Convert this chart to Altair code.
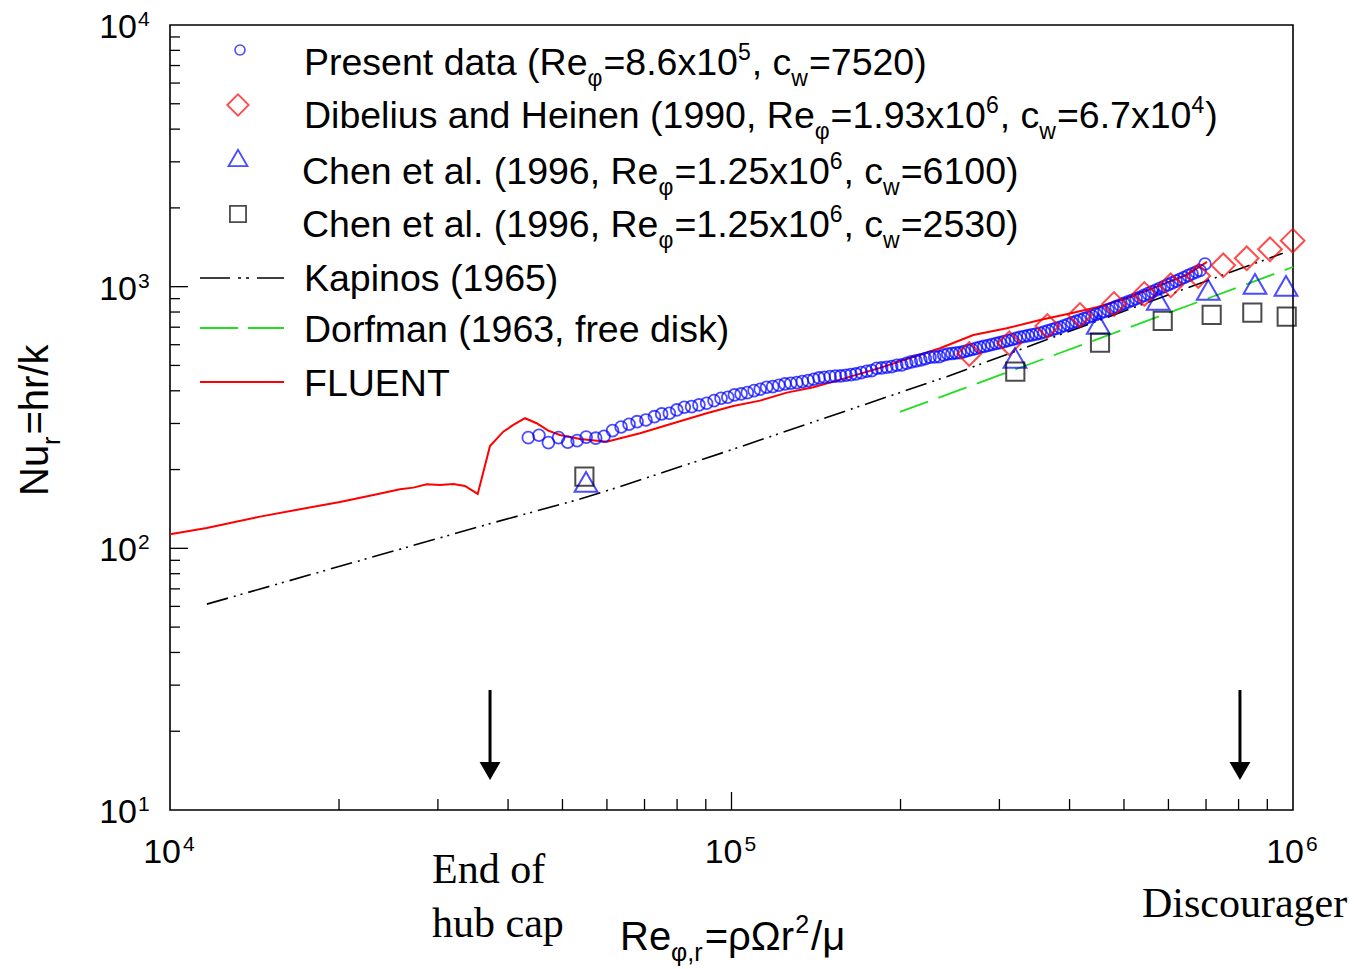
import altair as alt
import pandas as pd

# ---------------- data ----------------
present_re = [43460, 45400, 47200, 49200, 51100, 53100, 55100, 57300, 59300, 61400,
              63600, 65700, 67900, 70400, 72900, 75100, 77500, 79900, 82400, 84900,
              87500, 90300, 93100, 95800, 98500, 101200, 104000, 106700, 109700, 112500,
              115500, 118400, 121400, 124500, 127500, 130700, 133700, 136900, 140100, 143200,
              146300, 149800, 153100, 156500, 159900, 163200, 166600, 170300, 174100, 177700,
              181400, 185100, 189000, 192900, 196900, 201000, 205100, 209000, 213100, 217300,
              221400, 225700, 230100, 234500, 238700, 242700,
              247000, 251100, 255200, 259400, 263700, 268100, 272500, 277000, 281600, 286300,
              291000, 295800, 300700, 305700, 310800, 315900, 321100, 326400, 331800, 337300,
              342900, 348600, 354400, 360300, 366200, 372300, 378400, 384700, 391100, 397500,
              404100, 410800, 417600, 424500, 431500, 438700, 445900, 453300, 460800, 468400,
              476200, 484100, 492100, 500200, 508500, 516900, 525500, 534200, 543000, 552000,
              561100, 570400, 579800, 589400, 599200, 609100, 619100, 629400, 639800, 650400,
              661100, 672000, 683100, 697000]
present_nu = [264.9, 270.5, 253.5, 264.9, 254.4, 258.0, 266.1, 263.7, 268.2, 281.7,
              291.0, 298.0, 304.9, 309.5, 318.6, 326.3, 328.3, 338.0, 346.1, 348.0,
              353.2, 358.5, 366.8, 374.6, 378.0, 385.7, 389.1, 393.6, 400.6, 405.5,
              412.7, 414.9, 420.1, 424.9, 427.5, 429.8, 433.6, 437.4, 442.8, 447.9,
              450.7, 453.1, 455.1, 455.9, 458.7, 461.2, 464.0, 469.4, 475.2, 477.7,
              487.9, 489.2, 492.2, 494.8, 500.9, 502.3, 509.8, 515.7, 520.2, 524.8,
              530.8, 537.4, 538.8, 540.2, 548.3, 553.1,
              555.1, 558.1, 559.5, 564.9, 570.4, 575.4, 581.0, 586.7, 591.4, 596.1,
              601.4, 606.2, 611.0, 616.9, 622.9, 628.4, 634.5, 640.7, 645.2, 649.8,
              654.4, 659.0, 663.6, 670.7, 678.3, 685.4, 692.7, 699.5, 709.2, 718.0,
              727.5, 736.5, 746.0, 754.6, 764.0, 772.8, 782.4, 791.4, 803.3, 814.7,
              827.0, 838.7, 851.2, 862.9, 875.2, 886.8, 899.3, 910.9, 925.8, 940.6,
              955.6, 970.9, 986.0, 1001.7, 1017.8, 1034.0, 1050.5, 1067.3, 1084.3, 1102.6,
              1120.2, 1138.2, 1153.3, 1221.0]

dibelius_re = [265100, 312400, 365100, 417500, 480000, 543600, 605600, 678100, 751300, 827100, 910000, 998800]
dibelius_nu = [553.1, 607.8, 707.9, 779.7, 859.1, 937.7, 1012.4, 1098.9, 1207.2, 1284.0, 1389.6, 1499.2]

chen6100_re = [55070, 319800, 450000, 575600, 706500, 855700, 971700]
chen6100_nu = [179.4, 534.1, 720.5, 889.9, 971.3, 1024.0, 1006.0]

chen2530_re = [54700, 320200, 453200, 586100, 716400, 846300, 974500]
chen2530_nu = [187.9, 473.5, 611.0, 739.7, 779.7, 795.6, 768.1]

kapinos_re = [11630, 37150, 53000, 63300, 100000, 241700, 417500, 647600, 958700]
kapinos_nu = [61.2, 124.3, 153.0, 172.1, 238.0, 453.0, 698.9, 988.6, 1341.0]

dorfman_re = [199500, 1000000]
dorfman_nu = [332.0, 1189.0]

fluent_re = [10000, 11625, 14466, 17041, 20078, 23021, 25680, 27125, 28656, 30263,
             31958, 33519, 35318, 37145, 39228, 40871, 42875, 44980, 47170, 49490,
             53740, 59950, 68720, 78760, 90320, 100740, 112400, 125460, 139900, 151830,
             183860, 207950, 235130, 269580, 309200, 354300, 406200, 447200, 505700, 571900,
             646800, 702800]
fluent_nu = [113.2, 119.7, 132.2, 141.1, 150.4, 160.0, 168.2, 170.6, 175.8, 174.7,
             176.2, 173.2, 161.4, 246.2, 279.2, 296.1, 314.2, 300.6, 281.7, 271.3,
             261.8, 255.7, 275.4, 300.6, 328.3, 350.1, 366.8, 393.6, 412.7, 433.6,
             489.2, 534.1, 581.5, 653.8, 693.5, 746.0, 795.6, 834.3, 903.3, 1000.0,
             1108.6, 1243.0]

arrow_re = [37150, 804500]

y_label_vals = [10, 100, 1000, 10000]
y_label_exp = ["1", "2", "3", "4"]
x_label_vals = [1e4, 1e5, 1e6]
x_label_exp = ["4", "5", "6"]
y_major = [100, 1000]
y_minor = [20, 30, 40, 50, 60, 70, 80, 90, 200, 300, 400, 500, 600, 700, 800, 900,
           2000, 3000, 4000, 5000, 6000, 7000, 8000, 9000]
x_major = [1e5]
x_minor = [2e4, 3e4, 4e4, 5e4, 6e4, 7e4, 8e4, 9e4, 2e5, 3e5, 4e5, 5e5, 6e5, 7e5, 8e5, 9e5]

# ---------------- layout ----------------
W, H = 1123, 785
L, T = 170, 25
BLUE, RED, GREEN = "#0000ff", "#ff0000", "#22dd22"
FONT = "Liberation Sans"
SERIF = "Liberation Serif"

xs = alt.Scale(type="log", domain=[1e4, 1e6])
ys = alt.Scale(type="log", domain=[10, 1e4])
ENC = dict(x=alt.X("re:Q", scale=xs, axis=None), y=alt.Y("nu:Q", scale=ys, axis=None))


def frame(re, nu):
    return pd.DataFrame({"re": re, "nu": nu})


present = alt.Chart(frame(present_re, present_nu)).mark_point(
    shape="circle", filled=False, color=BLUE, size=140, strokeWidth=1.8).encode(**ENC)
dib = alt.Chart(frame(dibelius_re, dibelius_nu)).mark_point(
    shape="diamond", filled=False, color=RED, size=560, strokeWidth=2).encode(**ENC)
c61 = alt.Chart(frame(chen6100_re, chen6100_nu)).mark_point(
    shape="triangle-up", filled=False, color=BLUE, size=520, strokeWidth=2).encode(**ENC)
c25 = alt.Chart(frame(chen2530_re, chen2530_nu)).mark_point(
    shape="square", filled=False, color="black", size=330, strokeWidth=2).encode(**ENC)
kap = alt.Chart(frame(kapinos_re, kapinos_nu)).mark_line(
    color="black", strokeWidth=1.6, strokeDash=[22, 6, 2, 5, 2, 6]).encode(**ENC)
dorf = alt.Chart(frame(dorfman_re, dorfman_nu)).mark_line(
    color=GREEN, strokeWidth=1.8, strokeDash=[30, 11]).encode(**ENC)
flu = alt.Chart(frame(fluent_re, fluent_nu)).mark_line(
    color=RED, strokeWidth=2).encode(**ENC)

# ticks (inward)
ytk_major = alt.Chart(pd.DataFrame({"v": y_major})).mark_rule(color="black", strokeWidth=1.3).encode(
    y=alt.Y("v:Q", scale=ys, axis=None), x=alt.value(0), x2=alt.value(18))
ytk_minor = alt.Chart(pd.DataFrame({"v": y_minor})).mark_rule(color="black", strokeWidth=1.3).encode(
    y=alt.Y("v:Q", scale=ys, axis=None), x=alt.value(0), x2=alt.value(10))
xtk_major = alt.Chart(pd.DataFrame({"v": x_major})).mark_rule(color="black", strokeWidth=1.3).encode(
    x=alt.X("v:Q", scale=xs, axis=None), y=alt.value(H), y2=alt.value(H - 18))
xtk_minor = alt.Chart(pd.DataFrame({"v": x_minor})).mark_rule(color="black", strokeWidth=1.3).encode(
    x=alt.X("v:Q", scale=xs, axis=None), y=alt.value(H), y2=alt.value(H - 11))

# tick labels
ydf = pd.DataFrame({"v": y_label_vals, "e": y_label_exp, "b": ["10"] * 4})
xdf = pd.DataFrame({"v": x_label_vals, "e": x_label_exp, "b": ["10"] * 3})
ylab = alt.Chart(ydf).mark_text(font=FONT, fontSize=34, align="right", baseline="alphabetic", dy=13).encode(
    y=alt.Y("v:Q", scale=ys, axis=None), x=alt.value(137 - L), text="b:N")
ylab_e = alt.Chart(ydf).mark_text(font=FONT, fontSize=21, align="left", baseline="alphabetic", dy=1).encode(
    y=alt.Y("v:Q", scale=ys, axis=None), x=alt.value(138 - L), text="e:N")
xlab = alt.Chart(xdf).mark_text(font=FONT, fontSize=34, align="right", baseline="alphabetic", dx=11).encode(
    x=alt.X("v:Q", scale=xs, axis=None), y=alt.value(863 - T), text="b:N")
xlab_e = alt.Chart(xdf).mark_text(font=FONT, fontSize=21, align="left", baseline="alphabetic", dx=13).encode(
    x=alt.X("v:Q", scale=xs, axis=None), y=alt.value(851 - T), text="e:N")

# arrows
adf = pd.DataFrame({"re": arrow_re})
shaft = alt.Chart(adf).mark_rule(color="black", strokeWidth=3).encode(
    x=alt.X("re:Q", scale=xs, axis=None), y=alt.value(690 - T), y2=alt.value(764 - T))
head = alt.Chart(adf).mark_point(shape="triangle-down", filled=True, color="black", size=440, opacity=1).encode(
    x=alt.X("re:Q", scale=xs, axis=None), y=alt.value(771 - T))

# ---------------- text pieces (legend + titles) ----------------
AW = {' ': 278, '(': 333, ')': 333, ',': 278, '.': 278, '=': 584, '/': 278,
      'a': 556, 'b': 556, 'c': 500, 'd': 556, 'e': 556, 'f': 278, 'h': 556, 'i': 222,
      'k': 500, 'l': 222, 'm': 833, 'n': 556, 'o': 556, 'p': 556, 'r': 333, 's': 500,
      't': 278, 'u': 556, 'w': 722, 'x': 500,
      'C': 722, 'D': 722, 'E': 667, 'F': 611, 'H': 722, 'K': 667, 'L': 556, 'N': 722,
      'P': 667, 'R': 722, 'T': 611, 'U': 722,
      'φ': 650, 'ρ': 577, 'Ω': 768, 'μ': 577}


def tw(s, size):
    return sum(AW.get(ch, 556) for ch in s) * size / 1000.0


def run(parts, x0, base, main=37.5, small=23, sub=11, sup=-15, gap=1.0):
    rows = []
    x = x0
    for t, k in parts:
        s = main if k == "n" else small
        dy = 0 if k == "n" else (sub if k == "b" else sup)
        rows.append({"t": t, "x": x - L, "y": base + dy - T, "s": s})
        x += tw(t, s) + (gap if k != "n" else 0)
    return rows


legend_rows = []
legend_rows += run([("Present data (Re", "n"), ("φ", "b"), ("=8.6x10", "n"), ("5", "p"),
                    (", c", "n"), ("w", "b"), ("=7520)", "n")], 304, 75)
legend_rows += run([("Dibelius and Heinen (1990, Re", "n"), ("φ", "b"), ("=1.93x10", "n"), ("6", "p"),
                    (", c", "n"), ("w", "b"), ("=6.7x10", "n"), ("4", "p"), (")", "n")], 304, 128)
legend_rows += run([("Chen et al. (1996, Re", "n"), ("φ", "b"), ("=1.25x10", "n"), ("6", "p"),
                    (", c", "n"), ("w", "b"), ("=6100)", "n")], 302, 184)
legend_rows += run([("Chen et al. (1996, Re", "n"), ("φ", "b"), ("=1.25x10", "n"), ("6", "p"),
                    (", c", "n"), ("w", "b"), ("=2530)", "n")], 302, 237)
legend_rows += run([("Kapinos (1965)", "n")], 304, 291)
legend_rows += run([("Dorfman (1963, free disk)", "n")], 304, 342)
legend_rows += run([("FLUENT", "n")], 304, 396)
legend_rows += run([("Re", "n"), ("φ,r", "b"), ("=ρΩr", "n"), ("2", "p"), ("/μ", "n")], 620, 950,
                   main=40, small=25, sub=11, sup=-17, gap=2)

texts = alt.Chart(pd.DataFrame(legend_rows)).mark_text(
    font=FONT, align="left", baseline="alphabetic", color="black").encode(
    x=alt.X("x:Q", scale=None, axis=None), y=alt.Y("y:Q", scale=None, axis=None),
    text="t:N", size=alt.Size("s:Q", scale=None, legend=None))

# rotated y title
yt_rows = []
ypos = 496
for t, k in [("Nu", "n"), ("r", "b"), ("=hr/k", "n")]:
    s = 40 if k == "n" else 25
    yt_rows.append({"t": t, "x": (48 if k == "n" else 60) - L, "y": ypos - T, "s": s})
    ypos -= tw(t, s) + (2 if k != "n" else 0)
ytitle = alt.Chart(pd.DataFrame(yt_rows)).mark_text(
    font=FONT, align="left", baseline="alphabetic", angle=270, color="black").encode(
    x=alt.X("x:Q", scale=None, axis=None), y=alt.Y("y:Q", scale=None, axis=None),
    text="t:N", size=alt.Size("s:Q", scale=None, legend=None))

# serif annotations
ann = pd.DataFrame({"t": ["End of", "hub cap", "Discourager"],
                    "x": [432 - L, 432 - L, 1142 - L],
                    "y": [883 - T, 937 - T, 917 - T]})
annot = alt.Chart(ann).mark_text(font=SERIF, fontSize=42, align="left", baseline="alphabetic",
                                 color="black").encode(
    x=alt.X("x:Q", scale=None, axis=None), y=alt.Y("y:Q", scale=None, axis=None), text="t:N")

# legend symbols
one = pd.DataFrame({"a": [0]})
lg_c = alt.Chart(one).mark_point(shape="circle", filled=False, color=BLUE, size=100, strokeWidth=1.6).encode(
    x=alt.value(240 - L), y=alt.value(50 - T))
lg_d = alt.Chart(one).mark_point(shape="diamond", filled=False, color=RED, size=460, strokeWidth=1.8).encode(
    x=alt.value(238 - L), y=alt.value(105 - T))
lg_t = alt.Chart(one).mark_point(shape="triangle-up", filled=False, color=BLUE, size=360, strokeWidth=1.8).encode(
    x=alt.value(238 - L), y=alt.value(158 - T))
lg_s = alt.Chart(one).mark_point(shape="square", filled=False, color="black", size=260, strokeWidth=1.8).encode(
    x=alt.value(238 - L), y=alt.value(214 - T))
lg_k = alt.Chart(one).mark_rule(color="black", strokeWidth=1.6, strokeDash=[30, 8, 3, 5, 3, 8]).encode(
    x=alt.value(200 - L), x2=alt.value(284 - L), y=alt.value(278 - T))
lg_g = alt.Chart(one).mark_rule(color=GREEN, strokeWidth=1.8, strokeDash=[38, 10]).encode(
    x=alt.value(200 - L), x2=alt.value(284 - L), y=alt.value(328 - T))
lg_f = alt.Chart(one).mark_rule(color=RED, strokeWidth=2).encode(
    x=alt.value(200 - L), x2=alt.value(284 - L), y=alt.value(382 - T))

chart = alt.layer(
    kap, dorf, flu, present, dib, c61, c25,
    ytk_major, ytk_minor, xtk_major, xtk_minor,
    ylab, ylab_e, xlab, xlab_e, shaft, head,
    lg_c, lg_d, lg_t, lg_s, lg_k, lg_g, lg_f,
    texts, ytitle, annot,
).properties(
    width=W, height=H,
    padding={"left": L, "top": T, "right": 1357 - L - W, "bottom": 969 - T - H},
    autosize=alt.AutoSizeParams(type="none"),
    background="white",
).configure_view(stroke="black", strokeWidth=1.6)

chart.save("out.html", embed_options={"renderer": "svg", "actions": False})
